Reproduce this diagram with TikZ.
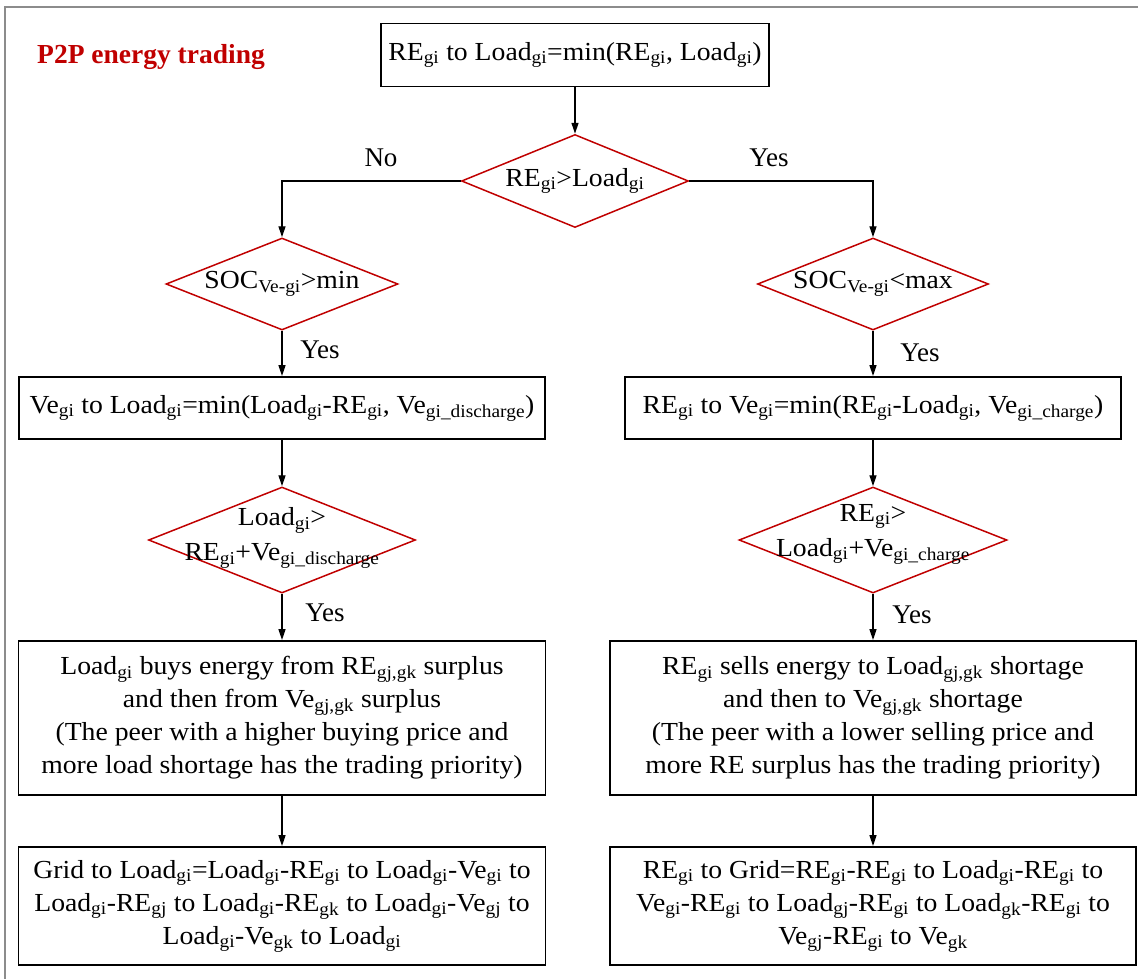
\documentclass[tikz,border=0pt]{standalone}
\usepackage{fontspec}
\setmainfont{Liberation Serif}
\newfontfamily\boxfont[FakeStretch=1.065]{Liberation Serif}
\usetikzlibrary{shapes.geometric,arrows.meta}
\definecolor{darkred}{RGB}{192,0,0}
\definecolor{framegray}{RGB}{140,140,140}
\newcommand\ssb[1]{\textsubscript{#1}}
\newcommand\txtsize{\fontsize{26}{33}\selectfont}
\begin{document}
\begin{tikzpicture}[x=1pt,y=-1pt,
  every node/.style={font=\boxfont\txtsize},
  procbox/.style={draw=black,line width=1.9pt,rectangle,inner sep=0pt,align=center},
  decision/.style={draw=darkred,line width=1.5pt,diamond,inner sep=0pt,aspect=2.5},
  dtext/.style={align=center,inner sep=0pt},
  arr/.style={line width=1.3pt,-{Triangle[length=11pt,width=7pt]}},
  branch/.style={font=\rmfamily\fontsize{27}{30}\selectfont,inner sep=0pt}]
\useasboundingbox (0,0) rectangle (1138,978);
% outer frame
\draw[framegray,line width=2.2pt] (5,985) -- (5,7) -- (1145,7);
% heading
\node[anchor=west,text=darkred,font=\rmfamily\fontsize{27.5}{30}\selectfont\bfseries,inner sep=0pt] (title) at (37,57) {P2P energy trading};
% top process
\node[procbox,minimum width=388pt,minimum height=63pt] (top) at (575,55)
  {RE\ssb{gi} to Load\ssb{gi}=min(RE\ssb{gi}, Load\ssb{gi})};
% first decision
\node[decision,minimum width=227pt,minimum height=93pt] (d1) at (575,181) {};
\node[dtext] (d1t) at (d1.center) {RE\ssb{gi}>Load\ssb{gi}};
% left branch
\node[decision,minimum width=232pt,minimum height=92pt] (d2l) at (282,284) {};
\node[dtext] (d2lt) at (d2l.center) {SOC\ssb{Ve-gi}>min};
\node[procbox,minimum width=526pt,minimum height=62pt] (b1l) at (282,408)
  {Ve\ssb{gi} to Load\ssb{gi}=min(Load\ssb{gi}-RE\ssb{gi}, Ve\ssb{gi\_discharge})};
\node[decision,minimum width=267pt,minimum height=106pt] (d3l) at (282,540) {};
\node[dtext] (d3lt) at (282,538) {Load\ssb{gi}>\\[2pt]RE\ssb{gi}+Ve\ssb{gi\_discharge}};
\node[procbox,minimum width=527pt,minimum height=154pt] (b2l) at (282,718)
  {Load\ssb{gi} buys energy from RE\ssb{gj,gk} surplus\\
   and then from Ve\ssb{gj,gk} surplus\\
   (The peer with a higher buying price and\\
   more load shortage has the trading priority)};
\node[procbox,minimum width=527pt,minimum height=118pt] (b3l) at (282,906)
  {Grid to Load\ssb{gi}=Load\ssb{gi}-RE\ssb{gi} to Load\ssb{gi}-Ve\ssb{gi} to\\
   Load\ssb{gi}-RE\ssb{gj} to Load\ssb{gi}-RE\ssb{gk} to Load\ssb{gi}-Ve\ssb{gj} to\\
   Load\ssb{gi}-Ve\ssb{gk} to Load\ssb{gi}};
% right branch
\node[decision,minimum width=231pt,minimum height=92pt] (d2r) at (873,284) {};
\node[dtext] (d2rt) at (d2r.center) {SOC\ssb{Ve-gi}<max};
\node[procbox,minimum width=496pt,minimum height=62pt] (b1r) at (873,408)
  {RE\ssb{gi} to Ve\ssb{gi}=min(RE\ssb{gi}-Load\ssb{gi}, Ve\ssb{gi\_charge})};
\node[decision,minimum width=268pt,minimum height=106pt] (d3r) at (873,540) {};
\node[dtext] (d3rt) at (873,534) {RE\ssb{gi}>\\[2pt]Load\ssb{gi}+Ve\ssb{gi\_charge}};
\node[procbox,minimum width=526pt,minimum height=154pt] (b2r) at (873,718)
  {RE\ssb{gi} sells energy to Load\ssb{gj,gk} shortage\\
   and then to Ve\ssb{gj,gk} shortage\\
   (The peer with a lower selling price and\\
   more RE surplus has the trading priority)};
\node[procbox,minimum width=526pt,minimum height=118pt] (b3r) at (873,906)
  {RE\ssb{gi} to Grid=RE\ssb{gi}-RE\ssb{gi} to Load\ssb{gi}-RE\ssb{gi} to\\
   Ve\ssb{gi}-RE\ssb{gi} to Load\ssb{gj}-RE\ssb{gi} to Load\ssb{gk}-RE\ssb{gi} to\\
   Ve\ssb{gj}-RE\ssb{gi} to Ve\ssb{gk}};
% connectors
\draw[arr] (top.south) -- (d1.north);
\draw[arr] (d1.west) -| (d2l.north);
\draw[arr] (d1.east) -| (d2r.north);
\draw[arr] (d2l.south) -- (b1l.north);
\draw[arr] (b1l.south) -- (d3l.north);
\draw[arr] (d3l.south) -- (b2l.north);
\draw[arr] (b2l.south) -- (b3l.north);
\draw[arr] (d2r.south) -- (b1r.north);
\draw[arr] (b1r.south) -- (d3r.north);
\draw[arr] (d3r.south) -- (b2r.north);
\draw[arr] (b2r.south) -- (b3r.north);
% branch labels
\node[branch] (lno) at (381,158) {No};
\node[branch] (lyes1) at (769,158) {Yes};
\node[branch] (lyes2) at (320,350) {Yes};
\node[branch] (lyes3) at (920,353) {Yes};
\node[branch] (lyes4) at (325,613) {Yes};
\node[branch] (lyes5) at (912,615) {Yes};
\end{tikzpicture}
\end{document}
